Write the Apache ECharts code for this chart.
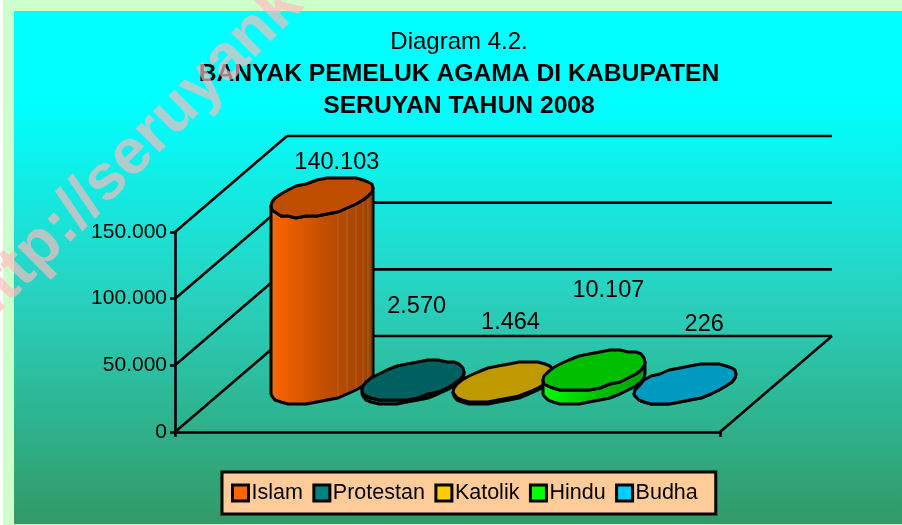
<!DOCTYPE html>
<html>
<head>
<meta charset="utf-8">
<style>html,body{margin:0;padding:0;background:#fff}#c{width:902px;height:525px}</style>
<script src="https://cdn.jsdelivr.net/npm/echarts@6/dist/echarts.min.js"></script>
</head>
<body>
<div id="c"></div>
<script>
const categories = ['Islam', 'Protestan', 'Katolik', 'Hindu', 'Budha'];
const values = [140103, 2570, 1464, 10107, 226];
const valueTicks = [0, 50000, 100000, 150000];
const colors = ['#FF6600', '#008080', '#FFCC00', '#00FF00', '#00CCFF'];
const topColors = ['#BF4D00', '#006060', '#BF9900', '#00BF00', '#0099BF'];
const sideColors = ['#A04000', '#004848', '#A08000', '#00A000', '#0080A0'];
const titleLines = ['Diagram 4.2.', 'BANYAK PEMELUK AGAMA DI KABUPATEN', 'SERUYAN TAHUN 2008'];
const watermark = 'http://seruyank';

// layout constants
const DEPTH_X = 112, DEPTH_Y = -96;
const RX = 45, SKEW = 23.9, RY = 20;
const labelNudge = [[15, -35], [4, -74], [7, -60], [14, -80], [19, -59]];
const FONT = '"Liberation Sans", Arial, sans-serif';

const fmt = v => String(v).replace(/\B(?=(\d{3})+(?!\d))/g, '.');
const snap = (v, s) => Math.round(v / s) * s;

function arc(cx, cy, from, to, n) {
  const pts = [];
  for (let k = 0; k <= n; k++) {
    const t = from + (to - from) * k / n;
    pts.push([snap(cx + RX * Math.cos(t) + SKEW * Math.sin(t), 1), snap(cy - RY * Math.sin(t), 2)]);
  }
  return pts;
}
const T0 = Math.atan2(SKEW, RX);
const SEG = 15;

function cylinder(seriesIdx) {
  return function (params, api) {
    const base = api.coord([api.value(0), 0]);
    const top = api.coord([api.value(0), api.value(1)]);
    const cx = base[0] + DEPTH_X / 2, by = base[1] + DEPTH_Y / 2, ty = top[1] + DEPTH_Y / 2;
    const frontB = arc(cx, by, T0 + Math.PI, T0 + 2 * Math.PI, SEG);
    const frontT = arc(cx, ty, T0 + Math.PI, T0 + 2 * Math.PI, SEG);
    const back = arc(cx, ty, T0, T0 + Math.PI, SEG);
    const c = colors[seriesIdx], d = topColors[seriesIdx], e = sideColors[seriesIdx];
    const children = [];
    children.push({
      type: 'polygon',
      shape: { points: frontB.concat(frontT.slice().reverse()) },
      style: {
        fill: { type: 'linear', x: 0, y: 0, x2: 1, y2: 0, colorStops: [
          { offset: 0, color: c }, { offset: 0.55, color: d }, { offset: 1, color: e }] },
        stroke: '#000', lineWidth: 3, lineJoin: 'round'
      }
    });
    if (by - ty > 40) {
      for (let k = 2; k < frontB.length - 1; k++) {
        if (k > 2 && k < 9) continue;
        children.push({
          type: 'line',
          shape: { x1: frontB[k][0], y1: frontB[k][1] - 2, x2: frontT[k][0], y2: frontT[k][1] },
          style: { stroke: 'rgba(150,150,90,0.45)', lineWidth: 1 }
        });
      }
    }
    children.push({
      type: 'polygon',
      shape: { points: frontT.concat(back.slice(1, -1)) },
      style: { fill: d, stroke: '#000', lineWidth: 3, lineJoin: 'round' }
    });
    const nudge = labelNudge[seriesIdx];
    children.push({
      type: 'text',
      style: {
        text: fmt(api.value(1)), x: cx + nudge[0], y: ty + nudge[1],
        fill: '#000', font: '23.5px ' + FONT, textAlign: 'center', textVerticalAlign: 'middle'
      }
    });
    return { type: 'group', children };
  };
}

function walls(params, api) {
  const v = api.value(0);
  const front = api.coord([0, v]);
  const end = api.coord([6, v]);
  const s = { stroke: '#000', lineWidth: 2.6 };
  const children = [
    { type: 'line', shape: { x1: front[0], y1: front[1], x2: front[0] + DEPTH_X, y2: front[1] + DEPTH_Y }, style: s },
    { type: 'line', shape: { x1: front[0] + DEPTH_X, y1: front[1] + DEPTH_Y, x2: end[0] + DEPTH_X, y2: end[1] + DEPTH_Y }, style: s }
  ];
  if (v === 0) {
    children.push({ type: 'line', shape: { x1: end[0], y1: end[1], x2: end[0] + DEPTH_X, y2: end[1] + DEPTH_Y }, style: s });
  }
  return { type: 'group', children };
}

const chart = echarts.init(document.getElementById('c'), null, { renderer: 'canvas' });
chart.setOption({
  animation: false,
  backgroundColor: '#fff',
  title: {
    left: 454, top: 21.5, textAlign: 'center',
    text: `{a|${titleLines[0]}}\n{b|${titleLines[1]}}\n{b|${titleLines[2]}}`,
    textStyle: {
      fontWeight: 'normal',
      rich: {
        a: { fontFamily: FONT, fontSize: 24, fontWeight: 'normal', color: '#000', lineHeight: 32 },
        b: { fontFamily: FONT, fontSize: 24.7, fontWeight: 'bold', color: '#000', lineHeight: 32 }
      }
    }
  },
  grid: { left: 175, top: 232, width: 545, height: 200 },
  xAxis: {
    type: 'value', min: 0, max: 6, interval: 6,
    axisLine: { show: true, onZero: false, lineStyle: { color: '#000', width: 2.6 } },
    axisTick: { show: true, length: 5, lineStyle: { color: '#000', width: 2.6 } },
    axisLabel: { show: false }, splitLine: { show: false }
  },
  yAxis: {
    type: 'value', min: 0, max: 150000, interval: 50000,
    axisLine: { show: true, lineStyle: { color: '#000', width: 2.6 } },
    axisTick: { show: true, length: 5, lineStyle: { color: '#000', width: 2.6 } },
    axisLabel: { fontFamily: FONT, fontSize: 21, color: '#000', margin: 8, formatter: fmt },
    splitLine: { show: false }
  },
  legend: {
    left: 222, top: 472, orient: 'horizontal',
    data: categories,
    icon: 'rect', itemWidth: 16, itemHeight: 16, itemGap: 9.5,
    padding: [10, 18, 10, 9],
    backgroundColor: '#FFCC99', borderColor: '#000', borderWidth: 3,
    itemStyle: { borderColor: '#000', borderWidth: 3 },
    textStyle: { fontFamily: FONT, fontSize: 21.5, color: '#000', padding: [0, 0, 0, -2] },
    selectedMode: false
  },
  graphic: [
    { type: 'rect', z: -10, silent: true, shape: { x: 3, y: 0, width: 899, height: 525 }, style: { fill: '#CCFFCC' } },
    { type: 'rect', z: -9, silent: true, shape: { x: 14, y: 11, width: 888, height: 513 },
      style: { fill: { type: 'linear', x: 0, y: 0, x2: 0, y2: 1, colorStops: [
        { offset: 0, color: '#00FFFF' }, { offset: 0.18, color: '#00FFFF' },
        { offset: 0.55, color: '#28D2C0' }, { offset: 1, color: '#339966' }] } } },
    { type: 'text', z: 100, silent: true, rotation: Math.PI / 4, x: -32, y: 319,
      style: { text: watermark, font: 'bold 64px ' + FONT, fill: 'rgba(255,185,190,0.68)', textAlign: 'left', textVerticalAlign: 'middle' } }
  ],
  series: [
    { type: 'custom', name: '__walls', coordinateSystem: 'cartesian2d', clip: false, silent: true, z: 1,
      renderItem: walls, encode: { x: 1, y: 0 }, data: valueTicks.map(v => [v, 0]) }
  ].concat(categories.map((name, i) => ({
    type: 'custom', name, coordinateSystem: 'cartesian2d', clip: false, silent: true, z: 2 + i,
    itemStyle: { color: colors[i] },
    renderItem: cylinder(i),
    encode: { x: 0, y: 1 },
    data: [[i + 1, values[i]]]
  })))
});
</script>
</body>
</html>
